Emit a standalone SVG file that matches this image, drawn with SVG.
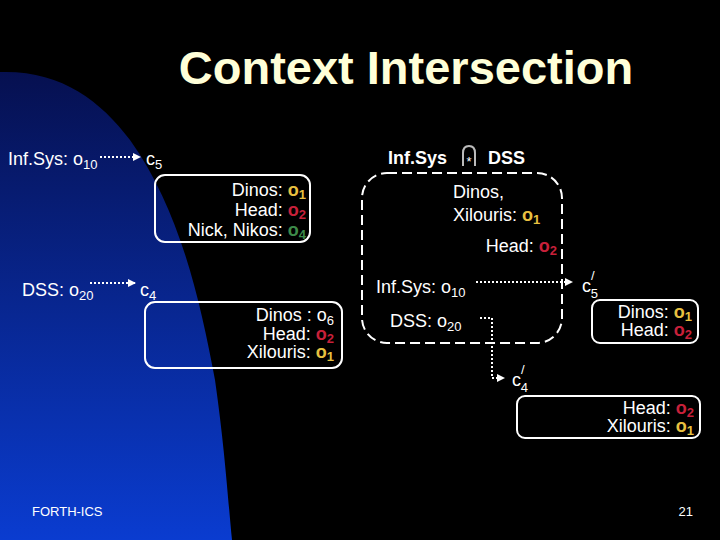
<svg xmlns="http://www.w3.org/2000/svg" width="720" height="540" viewBox="0 0 720 540">
<defs>
<linearGradient id="bg" x1="0" y1="0" x2="0" y2="1"><stop offset="0" stop-color="#061050"/><stop offset="1" stop-color="#0a3cd0"/></linearGradient>
<marker id="ah" markerWidth="8" markerHeight="8" refX="7" refY="4" orient="auto" markerUnits="userSpaceOnUse"><path d="M0,0 L8,4 L0,8 z" fill="#fff"/></marker>
<style>
text{font-family:"Liberation Sans",Arial,sans-serif;fill:#fff;font-size:18px}
.b{font-weight:bold}
.y{fill:#e8c040;font-weight:bold}
.r{fill:#c8203a;font-weight:bold}
.g{fill:#3d8a4a;font-weight:bold}
.box{fill:none;stroke:#fff;stroke-width:2}
.dot{fill:none;stroke:#fff;stroke-width:2;stroke-dasharray:2,2}
.e{text-anchor:end}
</style>
</defs>
<rect width="720" height="540" fill="#000"/>
<path d="M0,72 C60,70 100,100 130,140 C180,210 200,300 215,380 C225,450 228,500 232,540 L0,540 z" fill="url(#bg)"/>
<text x="406" y="84" text-anchor="middle" class="b" style="font-size:47px;fill:#ffffd8">Context Intersection</text>
<g id="connectors">
<path class="dot" d="M100,157 H140" marker-end="url(#ah)"/>
<path class="dot" d="M90,283 H135" marker-end="url(#ah)"/>
<path class="dot" d="M476,282 H572" marker-end="url(#ah)"/>
<path class="dot" d="M480,318 H492 V378 H504" marker-end="url(#ah)"/>
</g>
<g id="left1"><text x="8" y="165">Inf.Sys: o<tspan dy="4" font-size="13">10</tspan></text><text x="146" y="165">c<tspan dy="4" font-size="13">5</tspan></text></g>
<g id="box1"><rect class="box" x="155" y="175" width="155" height="67" rx="10"/>
<text x="306" y="196" class="e">Dinos: <tspan class="y">o<tspan dy="3" font-size="13">1</tspan></tspan></text>
<text x="306" y="216" class="e">Head: <tspan class="r">o<tspan dy="3" font-size="13">2</tspan></tspan></text>
<text x="306" y="236" class="e">Nick, Nikos: <tspan class="g">o<tspan dy="3" font-size="13">4</tspan></tspan></text></g>
<g id="left2"><text x="22" y="296">DSS: o<tspan dy="4" font-size="13">20</tspan></text><text x="140" y="296">c<tspan dy="4" font-size="13">4</tspan></text></g>
<g id="box2"><rect class="box" x="145" y="302" width="197" height="66" rx="10"/>
<text x="334" y="321" class="e">Dinos : o<tspan dy="4" font-size="13">6</tspan></text>
<text x="334" y="340" class="e">Head: <tspan class="r">o<tspan dy="3" font-size="13">2</tspan></tspan></text>
<text x="334" y="358" class="e">Xilouris: <tspan class="y">o<tspan dy="3" font-size="13">1</tspan></tspan></text></g>
<g id="inter">
<text x="388" y="164" class="b">Inf.Sys</text>
<path d="M463,166 V153 Q463,146 469,146 Q475,146 475,153 V166" fill="none" stroke="#bbb" stroke-width="2"/>
<text x="469" y="166" text-anchor="middle" style="font-size:13px">*</text>
<text x="488" y="164" class="b">DSS</text>
<rect x="362" y="173" width="200" height="170" rx="25" fill="none" stroke="#fff" stroke-width="2" stroke-dasharray="10,5"/>
<text x="453" y="198">Dinos,</text>
<text x="453" y="221">Xilouris: <tspan class="y">o<tspan dy="3" font-size="13">1</tspan></tspan></text>
<text x="557" y="252" class="e">Head: <tspan class="r">o<tspan dy="3" font-size="13">2</tspan></tspan></text>
<text x="376" y="293">Inf.Sys: o<tspan dy="4" font-size="13">10</tspan></text>
<text x="390" y="327">DSS: o<tspan dy="4" font-size="13">20</tspan></text></g>
<g id="c5p"><text x="582" y="292">c<tspan dy="-12" font-size="13">/</tspan><tspan dx="-4" dy="18" font-size="13">5</tspan></text></g>
<g id="box3"><rect class="box" x="592" y="300" width="106" height="43" rx="8"/>
<text x="692" y="318" class="e">Dinos: <tspan class="y">o<tspan dy="3" font-size="13">1</tspan></tspan></text>
<text x="692" y="336" class="e">Head: <tspan class="r">o<tspan dy="3" font-size="13">2</tspan></tspan></text></g>
<g id="c4p"><text x="512" y="386">c<tspan dy="-12" font-size="13">/</tspan><tspan dx="-4" dy="18" font-size="13">4</tspan></text></g>
<g id="box4"><rect class="box" x="517" y="396" width="183" height="42" rx="8"/>
<text x="694" y="414" class="e">Head: <tspan class="r">o<tspan dy="3" font-size="13">2</tspan></tspan></text>
<text x="694" y="432" class="e">Xilouris: <tspan class="y">o<tspan dy="3" font-size="13">1</tspan></tspan></text></g>
<text x="32" y="516" style="font-size:13px">FORTH-ICS</text>
<text x="693" y="516" class="e" style="font-size:13px">21</text>
</svg>
